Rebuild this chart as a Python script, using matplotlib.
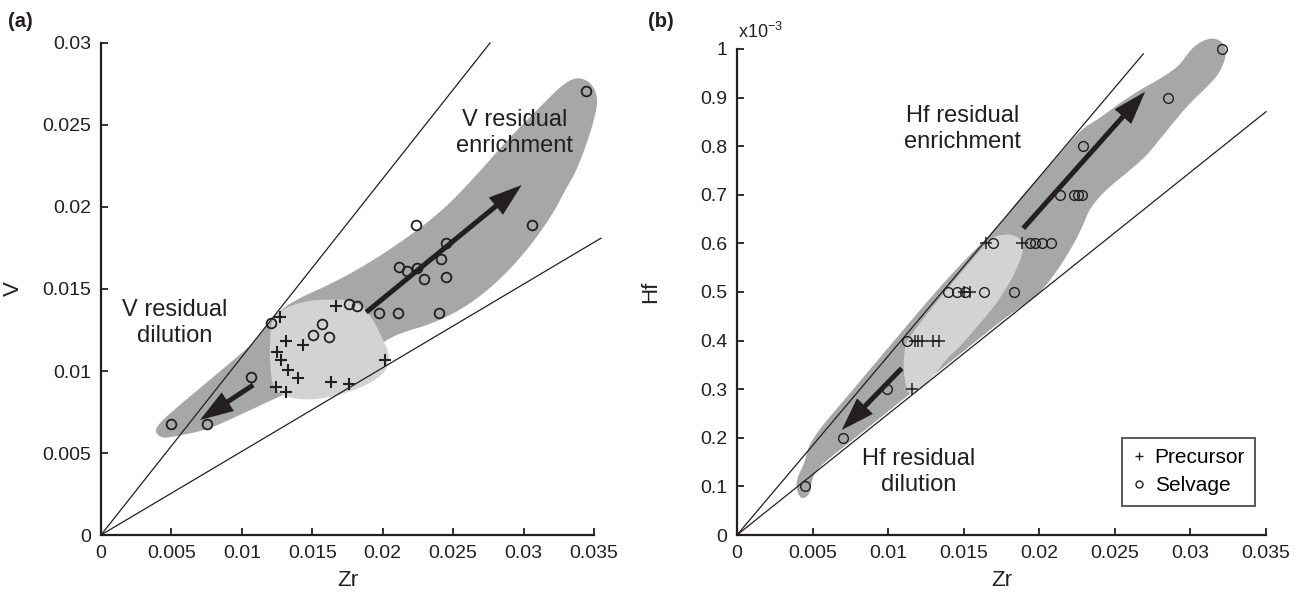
import numpy as np
import matplotlib
matplotlib.use('Agg')
import matplotlib.pyplot as plt
from matplotlib.lines import Line2D

plt.rcParams['font.family'] = ['Liberation Sans', 'DejaVu Sans']
plt.rcParams['mathtext.default'] = 'regular'

# ---- panel (a): V vs Zr ----
a_sel_zr = [0.02234, 0.03058, 0.02447, 0.02414, 0.02118, 0.02170, 0.02241, 0.02295, 0.02449,
            0.01761, 0.01815, 0.01976, 0.02106, 0.02402, 0.01205, 0.01569, 0.01503, 0.01621,
            0.01065, 0.00497, 0.00750, 0.03443]
a_sel_v = [0.01890, 0.01890, 0.01782, 0.01685, 0.01636, 0.01612, 0.01630, 0.01559, 0.01575,
           0.01407, 0.01396, 0.01355, 0.01355, 0.01355, 0.01295, 0.01287, 0.01220, 0.01209,
           0.00965, 0.00677, 0.00677, 0.02707]
a_pre_zr = [0.01666, 0.01271, 0.01311, 0.01436, 0.01247, 0.01278, 0.01325, 0.01396, 0.01242,
            0.01311, 0.01631, 0.01761, 0.02018]
a_pre_v = [0.01396, 0.01331, 0.01185, 0.01159, 0.01118, 0.01067, 0.01006, 0.00955, 0.00901,
           0.00870, 0.00931, 0.00921, 0.01067]

# reference lines through the origin (end points)
a_steep = (0.02762, 0.0300)
a_shallow = (0.0355, 0.0181)

# shaded fields (outline points, data units)
a_dark_zr = [0.00405, 0.00476, 0.00703, 0.00916, 0.01107, 0.01186, 0.01342, 0.01697, 0.02052,
             0.02407, 0.02655, 0.02904, 0.03117, 0.03280, 0.03386, 0.03486, 0.03530, 0.03505,
             0.03457, 0.03379, 0.03294, 0.03211, 0.03046, 0.02833, 0.02596, 0.02359, 0.02123,
             0.02028, 0.01910, 0.01626, 0.01342, 0.01212, 0.00987, 0.00750, 0.00511, 0.00433,
             0.00383]
a_dark_v = [0.00671, 0.00732, 0.00896, 0.01049, 0.01189, 0.01299, 0.01421, 0.01555, 0.01738,
            0.01962, 0.02183, 0.02427, 0.02610, 0.02750, 0.02795, 0.02755, 0.02660, 0.02543,
            0.02409, 0.02226, 0.02100, 0.01962, 0.01758, 0.01555, 0.01392, 0.01291, 0.01230,
            0.01189, 0.01116, 0.00976, 0.00872, 0.00823, 0.00732, 0.00640, 0.00598, 0.00591,
            0.00628]
a_light_zr = [0.01212, 0.01294, 0.01460, 0.01626, 0.01768, 0.01862, 0.01933, 0.02004, 0.02047,
              0.02040, 0.01981, 0.01862, 0.01697, 0.01507, 0.01342, 0.01223, 0.01200, 0.01200]
a_light_v = [0.01311, 0.01382, 0.01429, 0.01437, 0.01433, 0.01392, 0.01311, 0.01189, 0.01108,
             0.01026, 0.00965, 0.00904, 0.00854, 0.00823, 0.00834, 0.00884, 0.01026, 0.01209]

# arrows: (start, tip)
a_arrow_up = ((0.01883, 0.01358), (0.02987, 0.02134))
a_arrow_down = ((0.01081, 0.00915), (0.00703, 0.00701))

# ---- panel (b): Hf vs Zr (Hf in units of 1e-3) ----
b_sel_zr = [0.03207, 0.02850, 0.02287, 0.02137, 0.02230, 0.02256, 0.02283,
            0.01692, 0.01940, 0.01970, 0.02020, 0.02080,
            0.01398, 0.01454, 0.01509, 0.01636, 0.01835,
            0.01123, 0.00990, 0.00699, 0.00450]
b_sel_hf = [1.0, 0.9, 0.8, 0.7, 0.7, 0.7, 0.7,
            0.6, 0.6, 0.6, 0.6, 0.6,
            0.5, 0.5, 0.5, 0.5, 0.5,
            0.4, 0.3, 0.2, 0.1]
b_pre_zr = [0.01647, 0.01884, 0.01500, 0.01540, 0.01178, 0.01200, 0.01222, 0.01299, 0.01339, 0.01160]
b_pre_hf = [0.6, 0.6, 0.5, 0.5, 0.4, 0.4, 0.4, 0.4, 0.4, 0.3]

b_steep = (0.02688, 0.99)
b_shallow = (0.0350, 0.871)

b_dark_zr = [0.00417, 0.00384, 0.00450, 0.00483, 0.00748, 0.01078, 0.01409, 0.01740, 0.01859,
             0.02071, 0.02269, 0.02382, 0.02534, 0.02666, 0.02819, 0.02931, 0.02997, 0.03083,
             0.03183, 0.03249, 0.03196, 0.03110, 0.02997, 0.02885, 0.02779, 0.02686, 0.02355,
             0.02269, 0.02137, 0.01985, 0.01826, 0.01674, 0.01475, 0.01277, 0.01078, 0.00880,
             0.00681, 0.00549, 0.00496, 0.00483]
b_dark_hf = [0.072, 0.109, 0.150, 0.195, 0.292, 0.414, 0.535, 0.638, 0.689,
             0.761, 0.833, 0.854, 0.889, 0.916, 0.942, 0.967, 0.998, 1.019,
             1.023, 0.998, 0.951, 0.922, 0.889, 0.848, 0.807, 0.772, 0.689,
             0.621, 0.551, 0.490, 0.459, 0.422, 0.372, 0.323, 0.274, 0.224,
             0.175, 0.142, 0.117, 0.082]
b_light_zr = [0.01131, 0.01098, 0.01112, 0.01145, 0.01277, 0.01475, 0.01674, 0.01727, 0.01826,
              0.01892, 0.01892, 0.01826, 0.01720, 0.01608, 0.01475, 0.01389, 0.01297, 0.01211]
b_light_hf = [0.284, 0.340, 0.391, 0.409, 0.463, 0.537, 0.609, 0.617, 0.619,
              0.605, 0.578, 0.531, 0.477, 0.436, 0.387, 0.364, 0.325, 0.298]

b_arrow_up = ((0.01894, 0.631), (0.02700, 0.912))
b_arrow_down = ((0.01090, 0.343), (0.00693, 0.216))

x_ticks = [0, 0.005, 0.01, 0.015, 0.02, 0.025, 0.03, 0.035]
x_ticklabels = ['0', '0.005', '0.01', '0.015', '0.02', '0.025', '0.03', '0.035']
a_yticks = [0, 0.005, 0.01, 0.015, 0.02, 0.025, 0.03]
a_yticklabels = ['0', '0.005', '0.01', '0.015', '0.02', '0.025', '0.03']
b_yticks = [0, 0.1, 0.2, 0.3, 0.4, 0.5, 0.6, 0.7, 0.8, 0.9, 1.0]
b_yticklabels = ['0', '0.1', '0.2', '0.3', '0.4', '0.5', '0.6', '0.7', '0.8', '0.9', '1']

DARK = '#a6a7a9'
LIGHT = '#d2d3d5'
INK = '#231f20'


def smooth(xs, ys, n=3):
    # chaikin corner cutting for a closed outline
    p = np.column_stack([xs, ys])
    for _ in range(n):
        nxt = np.roll(p, -1, axis=0)
        q = 0.75 * p + 0.25 * nxt
        r = 0.25 * p + 0.75 * nxt
        p = np.empty((2 * len(q), 2))
        p[0::2] = q
        p[1::2] = r
    return p[:, 0], p[:, 1]


def style_axes(ax):
    for s in ['top', 'right']:
        ax.spines[s].set_visible(False)
    for s in ['left', 'bottom']:
        ax.spines[s].set_linewidth(1.6)
        ax.spines[s].set_color(INK)
    ax.tick_params(direction='in', length=5, width=1.3, labelsize=14, pad=7, colors=INK)


def arrow(ax, seg):
    ax.annotate('', xy=seg[1], xytext=seg[0], zorder=4,
                arrowprops=dict(arrowstyle='simple,head_length=1.2,head_width=0.8,tail_width=0.18',
                                mutation_scale=20, color=INK, lw=0, shrinkA=0, shrinkB=0))


fig = plt.figure(figsize=(13.06, 5.93), dpi=100)
ax1 = fig.add_axes([0.0773, 0.0978, 0.3775, 0.8297])
ax2 = fig.add_axes([0.5643, 0.0978, 0.4051, 0.8196])

# panel (a)
sx, sy = smooth(a_dark_zr, a_dark_v)
ax1.fill(sx, sy, color=DARK, lw=0, zorder=1, clip_on=False)
sx, sy = smooth(a_light_zr, a_light_v)
ax1.fill(sx, sy, color=LIGHT, lw=0, zorder=2, clip_on=False)
ax1.plot([0, a_steep[0]], [0, a_steep[1]], color=INK, lw=0.9, zorder=3, clip_on=False)
ax1.plot([0, a_shallow[0]], [0, a_shallow[1]], color=INK, lw=0.9, zorder=3, clip_on=False)
arrow(ax1, a_arrow_up)
arrow(ax1, a_arrow_down)
ax1.plot(a_pre_zr, a_pre_v, '+', color=INK, ms=8, mew=1.5, zorder=5, clip_on=False)
ax1.plot(a_sel_zr, a_sel_v, 'o', mfc='none', mec=INK, ms=7, mew=1.3, zorder=5, clip_on=False)
ax1.text(0.02939, 0.02451, 'V residual\nenrichment', ha='center', va='center', fontsize=17,
         color=INK, zorder=6)
ax1.text(0.0052, 0.01293, 'V residual\ndilution', ha='center', va='center', fontsize=17, color=INK)
ax1.set_xlim(0, 0.035)
ax1.set_ylim(0, 0.03)
ax1.set_xticks(x_ticks)
ax1.set_xticklabels(x_ticklabels)
ax1.set_yticks(a_yticks)
ax1.set_yticklabels(a_yticklabels)
ax1.set_xlabel('Zr', fontsize=16, color=INK)
ax1.set_ylabel('V', fontsize=16, color=INK)
ax1.xaxis.set_label_coords(0.5, -0.071)
ax1.yaxis.set_label_coords(-0.156, 0.5)
style_axes(ax1)

# panel (b)
sx, sy = smooth(b_dark_zr, b_dark_hf)
ax2.fill(sx, sy, color=DARK, lw=0, zorder=1, clip_on=False)
sx, sy = smooth(b_light_zr, b_light_hf)
ax2.fill(sx, sy, color=LIGHT, lw=0, zorder=2, clip_on=False)
ax2.plot([0, b_steep[0]], [0, b_steep[1]], color=INK, lw=0.9, zorder=3, clip_on=False)
ax2.plot([0, b_shallow[0]], [0, b_shallow[1]], color=INK, lw=0.9, zorder=3, clip_on=False)
arrow(ax2, b_arrow_up)
arrow(ax2, b_arrow_down)
ax2.plot(b_pre_zr, b_pre_hf, '+', color=INK, ms=8, mew=1.1, zorder=5, clip_on=False)
ax2.plot(b_sel_zr, b_sel_hf, 'o', mfc='none', mec=INK, ms=7, mew=1.0, zorder=5, clip_on=False)
ax2.text(0.01495, 0.835, 'Hf residual\nenrichment', ha='center', va='center', fontsize=17, color=INK)
ax2.text(0.01204, 0.130, 'Hf residual\ndilution', ha='center', va='center', fontsize=17, color=INK)
ax2.text(0.002, 1.035, 'x10$^{-3}$', transform=ax2.transAxes, ha='left', va='center',
         fontsize=13, color=INK)
ax2.set_xlim(0, 0.035)
ax2.set_ylim(0, 1.0)
ax2.set_xticks(x_ticks)
ax2.set_xticklabels(x_ticklabels)
ax2.set_yticks(b_yticks)
ax2.set_yticklabels(b_yticklabels)
ax2.set_xlabel('Zr', fontsize=16, color=INK)
ax2.set_ylabel('Hf', fontsize=16, color=INK)
ax2.xaxis.set_label_coords(0.5, -0.073)
ax2.yaxis.set_label_coords(-0.144, 0.5)
style_axes(ax2)

handles = [Line2D([], [], ls='none', marker='+', color=INK, ms=6, mew=1.0),
           Line2D([], [], ls='none', marker='o', mfc='none', mec=INK, ms=5, mew=1.0)]
leg = ax2.legend(handles, ['Precursor', 'Selvage'], loc='lower right', bbox_to_anchor=(0.98, 0.06),
                 borderaxespad=0, fontsize=15, frameon=True, fancybox=False, handlelength=0.6,
                 handletextpad=0.45, borderpad=0.5, labelspacing=0.45)
leg.get_frame().set_edgecolor(INK)
leg.get_frame().set_linewidth(1.3)

fig.text(0.006, 0.963, '(a)', fontsize=14.5, fontweight='bold', color=INK, va='center')
fig.text(0.496, 0.963, '(b)', fontsize=14.5, fontweight='bold', color=INK, va='center')

fig.savefig('out.png', dpi=100)
